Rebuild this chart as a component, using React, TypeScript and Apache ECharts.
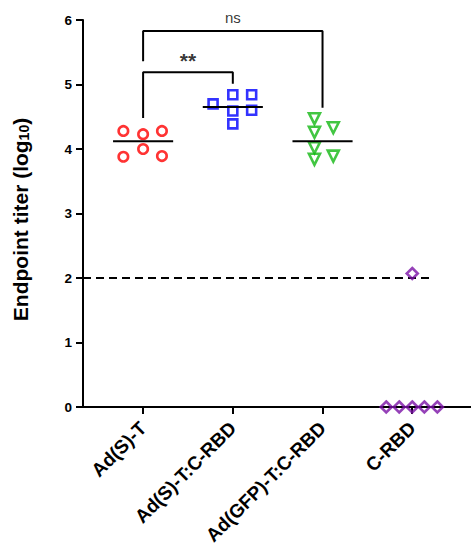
import React, { useEffect, useRef } from 'react';
import * as echarts from 'echarts';

// ---- data ----
const categories = ['Ad(S)-T', 'Ad(S)-T:C-RBD', 'Ad(GFP)-T:C-RBD', 'C-RBD'];
const yTicks = [0, 1, 2, 3, 4, 5, 6];

const adST = [4.28, 4.23, 4.28, 3.88, 4.0, 3.89];
const adSTJitter = [-0.22, 0, 0.21, -0.22, 0, 0.21];

const adSTcRBD = [4.7, 4.84, 4.84, 4.59, 4.6, 4.39];
const adSTcRBDJitter = [-0.22, 0, 0.21, 0, 0.21, 0];

const adGFPcRBD = [4.47, 4.33, 4.26, 4.02, 3.89, 3.84];
const adGFPcRBDJitter = [-0.09, 0.12, -0.09, -0.09, 0.12, -0.09];

const cRBD = [2.07, 0, 0, 0, 0, 0];
const cRBDJitter = [0, -0.29, -0.145, 0, 0.135, 0.28];

const medians = [4.12, 4.65, 4.12];
const detectionLimit = 2;

const bracketFrom = [1, 1];
const bracketTo = [2, 3];
const bracketTop = [5.19, 5.83];
const bracketLeftEnd = [4.48, 5.36];
const bracketRightEnd = [5.01, 4.64];
const bracketLabels = ['**', 'ns'];

const FONT = '"Liberation Sans", Arial, sans-serif';

export default function App() {
  const ref = useRef<HTMLDivElement>(null);

  useEffect(() => {
    if (!ref.current) return;
    const chart = echarts.init(ref.current, undefined, { renderer: 'svg' });

    const xMin = 0.33;
    const xMax = 4.655;
    const halfMedian = 0.335;

    const groups = [
      { name: categories[0], values: adST, jitter: adSTJitter, symbol: 'circle', rotate: 0, color: '#ff0000', size: 9.5 },
      { name: categories[1], values: adSTcRBD, jitter: adSTcRBDJitter, symbol: 'rect', rotate: 0, color: '#0000ff', size: 9 },
      { name: categories[2], values: adGFPcRBD, jitter: adGFPcRBDJitter, symbol: 'triangle', rotate: 180, color: '#13b813', size: 11 },
      { name: categories[3], values: cRBD, jitter: cRBDJitter, symbol: 'diamond', rotate: 0, color: '#7a12a6', size: 11 },
    ];

    const scatterSeries = groups.map((g, gi) => ({
      type: 'scatter',
      name: g.name,
      data: g.values.map((v, i) => [gi + 1 + g.jitter[i], v]),
      symbol: g.symbol,
      symbolRotate: g.rotate,
      symbolSize: g.size,
      clip: false,
      z: 3,
      itemStyle: { color: 'rgba(0,0,0,0)', borderColor: g.color, borderWidth: 2.6 },
    }));

    const medianSeries = medians.map((m, i) => ({
      type: 'line',
      data: [[i + 1 - halfMedian, m], [i + 1 + halfMedian, m]],
      symbol: 'none',
      clip: false,
      z: 4,
      lineStyle: { color: '#000', width: 2 },
    }));

    const bracketSeries = bracketFrom.map((f, i) => ({
      type: 'line',
      data: [[f, bracketLeftEnd[i]], [f, bracketTop[i]], [bracketTo[i], bracketTop[i]], [bracketTo[i], bracketRightEnd[i]]],
      symbol: 'none',
      clip: false,
      lineStyle: { color: '#000', width: 2 },
    }));

    const labelSeries = {
      type: 'scatter',
      symbolSize: 0,
      clip: false,
      data: bracketFrom.map((f, i) => ({
        value: [(f + bracketTo[i]) / 2, bracketTop[i]],
        label: {
          show: true,
          position: 'top',
          distance: i === 0 ? 1 : 6,
          formatter: bracketLabels[i],
          color: '#000',
          fontFamily: FONT,
          fontSize: i === 0 ? 21 : 15,
          fontWeight: i === 0 ? 'bold' : 'normal',
        },
      })),
    };

    const dashedSeries = {
      type: 'line',
      data: [[xMin, detectionLimit], [4.22, detectionLimit]],
      symbol: 'none',
      clip: false,
      lineStyle: { color: '#000', width: 2, type: [8, 5] },
    };

    chart.setOption({
      animation: false,
      backgroundColor: '#fff',
      grid: { left: 83, right: 0, top: 20, bottom: 144, containLabel: false },
      xAxis: {
        type: 'value',
        min: xMin,
        max: xMax,
        splitLine: { show: false },
        axisLine: { lineStyle: { color: '#000', width: 2 } },
        axisTick: { customValues: [1, 2, 3, 4], length: 7, lineStyle: { color: '#000', width: 2 } },
        axisLabel: {
          customValues: [1, 2, 3, 4],
          formatter: (v: number) => categories[Math.round(v) - 1] ?? '',
          rotate: 45,
          margin: 18,
          color: '#000',
          fontFamily: FONT,
          fontWeight: 'bold',
          fontSize: 19,
        },
      },
      yAxis: {
        type: 'value',
        min: yTicks[0],
        max: yTicks[yTicks.length - 1],
        interval: 1,
        splitLine: { show: false },
        axisLine: { show: true, lineStyle: { color: '#000', width: 2 } },
        axisTick: { show: true, length: 7, lineStyle: { color: '#000', width: 2 } },
        axisLabel: { margin: 11, color: '#000', fontFamily: FONT, fontWeight: 'bold', fontSize: 13.5 },
        name: '{a|Endpoint titer (log}{b|10}{a|)}',
        nameLocation: 'middle',
        nameRotate: 90,
        nameGap: 52,
        nameTextStyle: {
          padding: [0, 12, 0, 0],
          rich: {
            a: { fontFamily: FONT, fontWeight: 'bold', fontSize: 21, color: '#000' },
            b: { fontFamily: FONT, fontWeight: 'bold', fontSize: 14, color: '#000', verticalAlign: 'bottom', padding: [7, 0, 0, 0] },
          },
        },
      },
      series: [...medianSeries, ...bracketSeries, dashedSeries, ...scatterSeries, labelSeries],
    });

    return () => chart.dispose();
  }, []);

  return (
    <div
      ref={ref}
      style={{ position: 'fixed', left: 0, top: 0, width: 471, height: 551, background: '#fff' }}
    />
  );
}
